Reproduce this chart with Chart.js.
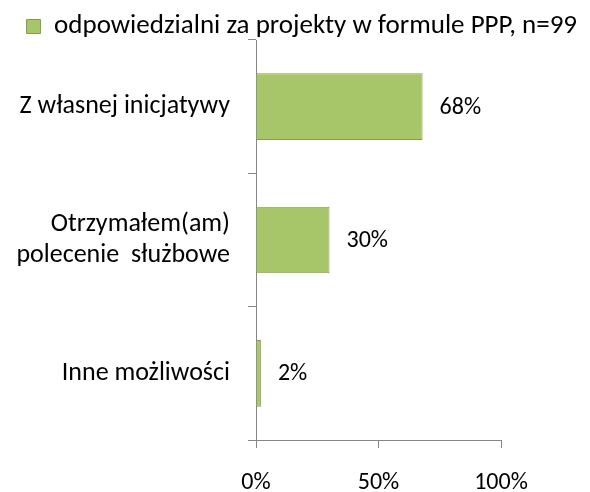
<!DOCTYPE html>
<html>
<head>
<meta charset="utf-8">
<script src="https://cdn.jsdelivr.net/npm/chart.js@4/dist/chart.umd.min.js"></script>
<style>
  html, body { margin: 0; padding: 0; background: #fff; }
  #wrap { width: 590px; height: 492px; }
</style>
</head>
<body>
<div id="wrap"><canvas id="chart" width="590" height="492"></canvas></div>
<script>
"use strict";

const categories = [
  "Z własnej inicjatywy",
  ["Otrzymałem(am)", "polecenie  służbowe"],
  "Inne możliwości",
];
const seriesName = "odpowiedzialni za projekty w formule PPP, n=99";
const values = [68, 30, 2];
const xTicks = [0, 50, 100];

const FONT = "Carlito, Lato, 'Liberation Sans', sans-serif";
const axisGray = "#868686";

// percent labels to the right of each bar
const barLabels = {
  id: "barLabels",
  afterDatasetsDraw(chart) {
    const ctx = chart.ctx;
    const meta = chart.getDatasetMeta(0);
    ctx.save();
    ctx.font = "24px " + FONT;
    ctx.fillStyle = "#000";
    ctx.textAlign = "left";
    ctx.textBaseline = "middle";
    meta.data.forEach((bar, i) => {
      ctx.fillText(values[i] + "%", bar.x + 17, bar.y + 1);
    });
    ctx.restore();
  },
};

// keep the legend band a fixed height
const legendHeight = {
  id: "legendHeight",
  beforeLayout(chart) {
    const lg = chart.legend;
    if (lg && !lg._patched) {
      const fit = lg.fit.bind(lg);
      lg.fit = function () {
        fit();
        this.height = 40;
      };
      lg._patched = true;
    }
  },
};

const ctx = document.getElementById("chart").getContext("2d");

const myChart = new Chart(ctx, {
  type: "bar",
  data: {
    labels: categories,
    datasets: [
      {
        label: seriesName,
        data: values,
        backgroundColor: "#a7c66a",
        borderColor: "#819f48",
        borderWidth: 1,
        barPercentage: 0.5,
        categoryPercentage: 1,
      },
    ],
  },
  options: {
    indexAxis: "y",
    responsive: false,
    animation: false,
    layout: {
      padding: { left: 0, right: 0, top: 0, bottom: 0 },
    },
    plugins: {
      legend: {
        display: true,
        position: "top",
        align: "end",
        labels: {
          font: { family: FONT, size: 27 },
          color: "#000",
          boxWidth: 14,
          boxHeight: 14,
          padding: 13,
        },
      },
      tooltip: { enabled: false },
    },
    scales: {
      x: {
        min: 0,
        max: 100,
        afterBuildTicks: (scale) => {
          scale.ticks = xTicks.map((v) => ({ value: v }));
        },
        afterFit: (scale) => {
          scale.height = 52;
        },
        grid: {
          drawOnChartArea: false,
          drawTicks: true,
          tickLength: 8,
          color: axisGray,
        },
        border: { color: axisGray },
        ticks: {
          callback: (v) => v + "%",
          font: { family: FONT, size: 24 },
          color: "#000",
          padding: 21,
          maxRotation: 0,
        },
      },
      y: {
        afterFit: (scale) => {
          scale.width = 256;
        },
        grid: {
          offset: true,
          drawOnChartArea: false,
          drawTicks: true,
          tickLength: 8,
          color: axisGray,
        },
        border: { color: axisGray },
        ticks: {
          font: { family: FONT, size: 26 },
          color: "#000",
          padding: 18,
        },
      },
      // empty right-hand band so the plot ends at 100% where the reference does
      right: {
        type: "linear",
        position: "right",
        display: true,
        afterFit: (scale) => {
          scale.width = 89;
        },
        grid: { display: false },
        border: { display: false },
        ticks: { display: false },
      },
    },
  },
  plugins: [barLabels, legendHeight],
});
</script>
</body>
</html>
